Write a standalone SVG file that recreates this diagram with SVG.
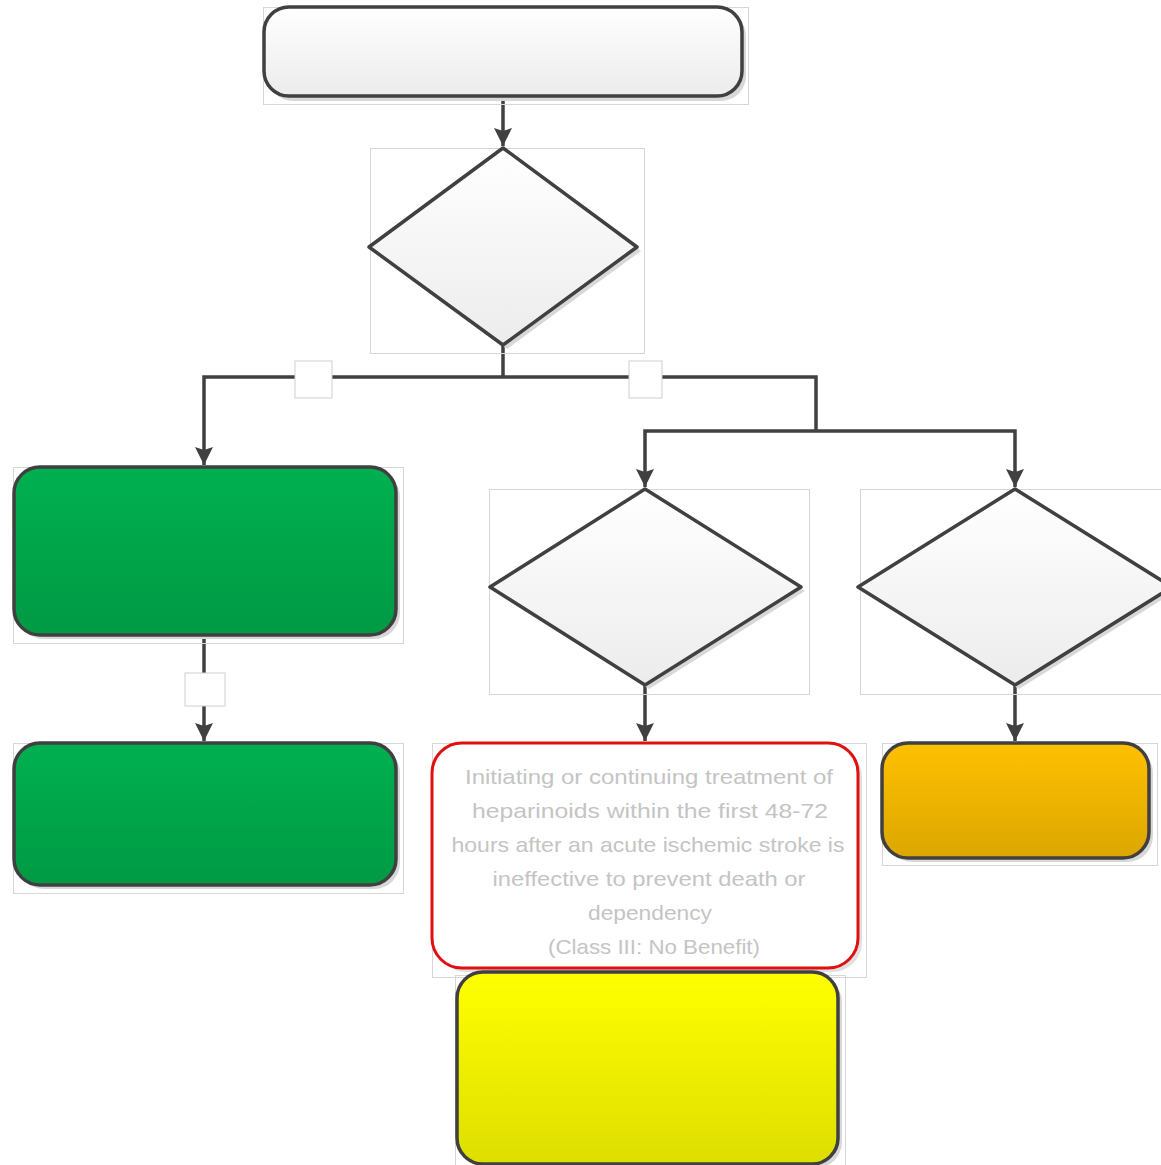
<svg xmlns="http://www.w3.org/2000/svg" width="1161" height="1165" viewBox="0 0 1161 1165">
  <style>
    .frame { fill: none; stroke: #d6d6d6; stroke-width: 1; }
    .shadow { fill: #d8d8d8; }
    .shape { stroke: #404040; stroke-width: 3.5; stroke-linejoin: round; }
    .wire { fill: none; stroke: #404040; stroke-width: 3.5; }
    .tag { fill: #ffffff; stroke: #cfcfcf; stroke-width: 1; }
    .note { font-family: "Liberation Sans", Arial, sans-serif; font-size: 21px; fill: #c4c4c4; text-anchor: middle; }
  </style>
  <defs>
    <linearGradient id="gWhite" x1="0" y1="0" x2="0" y2="1">
      <stop offset="0" stop-color="#ffffff"/>
      <stop offset="1" stop-color="#ececec"/>
    </linearGradient>
    <linearGradient id="gGreen" x1="0" y1="0" x2="0" y2="1">
      <stop offset="0" stop-color="#00b050"/>
      <stop offset="1" stop-color="#009a44"/>
    </linearGradient>
    <linearGradient id="gOrange" x1="0" y1="0" x2="0" y2="1">
      <stop offset="0" stop-color="#ffc000"/>
      <stop offset="1" stop-color="#dba700"/>
    </linearGradient>
    <linearGradient id="gYellow" x1="0" y1="0" x2="0" y2="1">
      <stop offset="0" stop-color="#ffff00"/>
      <stop offset="1" stop-color="#dede00"/>
    </linearGradient>
    <!-- downward arrowhead, tip on the node edge -->
    <marker id="arrowDown" viewBox="0 0 18 18" refX="9" refY="18" markerWidth="18" markerHeight="18" markerUnits="userSpaceOnUse" orient="0">
      <path d="M0,0 L9,3 L18,0 L9,18 Z" fill="#404040"/>
    </marker>
  </defs>

  <rect width="1161" height="1165" fill="#ffffff"/>

  <!-- connectors -->
  <g id="connectors">
    <path class="wire" d="M503,96 V146" marker-end="url(#arrowDown)"/>
    <path class="wire" d="M503,345 V377"/>
    <path class="wire" d="M503,377 H204 V465" marker-end="url(#arrowDown)"/>
    <path class="wire" d="M503,377 H816 V431"/>
    <path class="wire" d="M816,431 H645 V487" marker-end="url(#arrowDown)"/>
    <path class="wire" d="M816,431 H1015 V487" marker-end="url(#arrowDown)"/>
    <path class="wire" d="M204,635 V741" marker-end="url(#arrowDown)"/>
    <path class="wire" d="M645,685 V741" marker-end="url(#arrowDown)"/>
    <path class="wire" d="M1015,685 V741" marker-end="url(#arrowDown)"/>
    <rect class="tag" x="295" y="361" width="37" height="37"/>
    <rect class="tag" x="629" y="361" width="33" height="37"/>
    <rect class="tag" x="185" y="673" width="40" height="33"/>
  </g>

  <!-- start box -->
  <g id="start">
    <rect class="frame" x="263.5" y="7.5" width="485" height="97"/>
    <rect class="shadow" x="268" y="11" width="478" height="90" rx="25"/>
    <rect class="shape" x="264" y="7" width="478" height="89" rx="25" fill="url(#gWhite)"/>
  </g>

  <!-- first decision -->
  <g id="decision1">
    <rect class="frame" x="370.5" y="148.5" width="274" height="205"/>
    <polygon class="shadow" points="507,152 641,251 507,349 373,251"/>
    <polygon class="shape" points="503,148 637,247 503,345 369,247" fill="url(#gWhite)"/>
  </g>

  <!-- left branch, first box -->
  <g id="green1">
    <rect class="frame" x="13.5" y="467.5" width="390" height="176"/>
    <rect class="shadow" x="18" y="471" width="382" height="168" rx="26"/>
    <rect class="shape" x="14" y="467" width="382" height="168" rx="26" fill="url(#gGreen)"/>
  </g>

  <!-- left branch, second box -->
  <g id="green2">
    <rect class="frame" x="13.5" y="743.5" width="390" height="150"/>
    <rect class="shadow" x="18" y="747" width="382" height="142" rx="26"/>
    <rect class="shape" x="14" y="743" width="382" height="142" rx="26" fill="url(#gGreen)"/>
  </g>

  <!-- middle decision -->
  <g id="decision2">
    <rect class="frame" x="489.5" y="489.5" width="320" height="205"/>
    <polygon class="shadow" points="649,493 805,591 649,689 494,591"/>
    <polygon class="shape" points="645,489 801,587 645,685 490,587" fill="url(#gWhite)"/>
  </g>

  <!-- right decision -->
  <g id="decision3">
    <rect class="frame" x="860.5" y="489.5" width="305" height="205"/>
    <polygon class="shadow" points="1019,493 1176,591 1019,689 862,591"/>
    <polygon class="shape" points="1015,489 1172,587 1015,685 858,587" fill="url(#gWhite)"/>
  </g>

  <!-- recommendation against -->
  <g id="classIII">
    <rect class="frame" x="432.5" y="743.5" width="434" height="234"/>
    <rect x="436" y="747" width="426" height="225" rx="30" fill="#e0e0e0"/>
    <rect x="432" y="743" width="426" height="225" rx="30" fill="#ffffff" stroke="#e01010" stroke-width="3"/>
    <text class="note" x="649" y="784" textLength="368" lengthAdjust="spacingAndGlyphs">Initiating or continuing treatment of</text>
    <text class="note" x="650" y="818" textLength="356" lengthAdjust="spacingAndGlyphs">heparinoids within the first 48-72</text>
    <text class="note" x="648" y="852" textLength="393" lengthAdjust="spacingAndGlyphs">hours after an acute ischemic stroke is</text>
    <text class="note" x="649" y="886" textLength="313" lengthAdjust="spacingAndGlyphs">ineffective to prevent death or</text>
    <text class="note" x="650" y="920" textLength="124" lengthAdjust="spacingAndGlyphs">dependency</text>
    <text class="note" x="654" y="954" textLength="212" lengthAdjust="spacingAndGlyphs">(Class III: No Benefit)</text>
  </g>

  <!-- bottom yellow box -->
  <g id="yellow">
    <rect class="frame" x="455.5" y="975.5" width="390" height="195"/>
    <rect class="shadow" x="461" y="976" width="381" height="192" rx="26"/>
    <rect class="shape" x="457" y="972" width="381" height="192" rx="26" fill="url(#gYellow)"/>
  </g>

  <!-- right orange box -->
  <g id="orange">
    <rect class="frame" x="882.5" y="743.5" width="275" height="122"/>
    <rect class="shadow" x="886" y="747" width="267" height="115" rx="26"/>
    <rect class="shape" x="882" y="743" width="267" height="115" rx="26" fill="url(#gOrange)"/>
  </g>
</svg>
